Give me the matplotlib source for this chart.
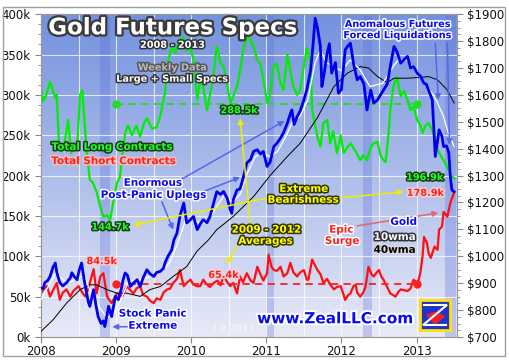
import numpy as np
import matplotlib
matplotlib.use('Agg')
import matplotlib.pyplot as plt
import matplotlib.patheffects as pe
from matplotlib.patches import Rectangle, Wedge

# Total long contracts (k)
long_t = [2008.00, 2008.03, 2008.07, 2008.12, 2008.16, 2008.19, 2008.21, 2008.24, 2008.28, 2008.32,
          2008.36, 2008.40, 2008.44, 2008.48, 2008.52, 2008.55, 2008.57, 2008.61, 2008.65, 2008.69,
          2008.74, 2008.79, 2008.83, 2008.88, 2008.92, 2008.96, 2009.01, 2009.05, 2009.12, 2009.16,
          2009.21, 2009.27, 2009.32, 2009.37, 2009.41, 2009.48, 2009.54, 2009.59, 2009.65, 2009.69,
          2009.74, 2009.79, 2009.83, 2009.89, 2009.93, 2009.99, 2010.03, 2010.08, 2010.12, 2010.16,
          2010.21, 2010.25, 2010.29, 2010.34, 2010.39, 2010.43, 2010.47, 2010.52, 2010.56, 2010.61,
          2010.65, 2010.69, 2010.74, 2010.79, 2010.83, 2010.88, 2010.92, 2010.96, 2011.01, 2011.05,
          2011.09, 2011.14, 2011.19, 2011.23, 2011.28, 2011.32, 2011.36, 2011.41, 2011.45, 2011.49,
          2011.54, 2011.59, 2011.61, 2011.68, 2011.72, 2011.76, 2011.81, 2011.85, 2011.89, 2011.94,
          2011.99, 2012.03, 2012.08, 2012.12, 2012.19, 2012.25, 2012.29, 2012.34, 2012.39, 2012.43,
          2012.48, 2012.52, 2012.56, 2012.59, 2012.63, 2012.65, 2012.69, 2012.74, 2012.79, 2012.83,
          2012.88, 2012.92, 2012.96, 2013.01, 2013.05, 2013.08, 2013.12, 2013.16, 2013.21, 2013.24,
          2013.28, 2013.32, 2013.36, 2013.40, 2013.43, 2013.45, 2013.50]
long_k = [308, 292, 300, 316, 305, 296, 300, 235, 230, 244,
          269, 228, 240, 232, 300, 306, 280, 228, 195, 191,
          180, 161, 149, 151, 145, 166, 191, 198, 253, 262,
          250, 262, 248, 265, 271, 258, 260, 275, 302, 340,
          360, 352, 365, 372, 355, 358, 343, 294, 318, 310,
          281, 300, 320, 360, 340, 335, 318, 290, 298, 310,
          330, 355, 372, 368, 360, 343, 339, 320, 290, 300,
          335, 339, 314, 306, 350, 330, 310, 300, 306, 330,
          358, 340, 281, 248, 236, 265, 269, 240, 255, 228,
          250, 228, 235, 240, 230, 219, 225, 219, 235, 240,
          242, 225, 219, 217, 255, 281, 310, 322, 298, 305,
          294, 281, 285, 269, 262, 253, 262, 265, 256, 248,
          232, 225, 219, 212, 207, 200, 197]

# Total short contracts (k)
short_t = [2008.00, 2008.04, 2008.08, 2008.12, 2008.16, 2008.21, 2008.25, 2008.29, 2008.34, 2008.39,
           2008.43, 2008.50, 2008.55, 2008.59, 2008.63, 2008.65, 2008.70, 2008.74, 2008.79, 2008.83,
           2008.88, 2008.94, 2009.01, 2009.08, 2009.14, 2009.19, 2009.23, 2009.27, 2009.32, 2009.36,
           2009.41, 2009.45, 2009.50, 2009.54, 2009.59, 2009.63, 2009.68, 2009.72, 2009.76, 2009.81,
           2009.85, 2009.90, 2009.95, 2009.99, 2010.03, 2010.08, 2010.12, 2010.16, 2010.21, 2010.25,
           2010.30, 2010.35, 2010.39, 2010.43, 2010.48, 2010.52, 2010.56, 2010.61, 2010.65, 2010.69,
           2010.74, 2010.79, 2010.83, 2010.88, 2010.92, 2010.96, 2011.01, 2011.03, 2011.07, 2011.10,
           2011.14, 2011.19, 2011.23, 2011.28, 2011.32, 2011.36, 2011.41, 2011.45, 2011.50, 2011.54,
           2011.56, 2011.61, 2011.63, 2011.68, 2011.72, 2011.76, 2011.81, 2011.85, 2011.90, 2011.94,
           2011.99, 2012.03, 2012.05, 2012.09, 2012.12, 2012.16, 2012.19, 2012.21, 2012.25, 2012.29,
           2012.32, 2012.36, 2012.40, 2012.43, 2012.47, 2012.50, 2012.53, 2012.56, 2012.61, 2012.65,
           2012.69, 2012.72, 2012.76, 2012.79, 2012.83, 2012.88, 2012.92, 2012.96, 2013.01, 2013.03,
           2013.05, 2013.08, 2013.10, 2013.14, 2013.16, 2013.19, 2013.24, 2013.28, 2013.30, 2013.34,
           2013.36, 2013.41, 2013.45, 2013.50]
short_k = [54, 60, 63, 50, 58, 67, 46, 55, 59, 50,
           57, 63, 55, 50, 60, 67, 84, 54, 75, 79,
           50, 42, 54, 50, 63, 58, 54, 60, 63, 52,
           50, 45, 42, 48, 46, 55, 59, 60, 67, 72,
           83, 63, 68, 71, 65, 63, 63, 71, 65, 62,
           67, 70, 64, 75, 68, 63, 67, 54, 75, 68,
           79, 70, 67, 87, 78, 70, 79, 102, 87, 83,
           82, 87, 75, 79, 92, 80, 75, 80, 83, 71,
           71, 96, 92, 83, 78, 67, 72, 65, 59, 62,
           63, 52, 46, 52, 54, 63, 65, 55, 50, 55,
           62, 87, 78, 75, 80, 83, 75, 71, 62, 54,
           52, 50, 56, 59, 58, 57, 60, 71, 67, 72,
           79, 100, 124, 116, 104, 98, 112, 108, 133, 137,
           155, 149, 166, 179]

# Gold price ($)
gold_t = [2008.00, 2008.03, 2008.05, 2008.09, 2008.12, 2008.16, 2008.19, 2008.21, 2008.25, 2008.29,
          2008.34, 2008.39, 2008.41, 2008.44, 2008.48, 2008.51, 2008.54, 2008.57, 2008.59, 2008.63,
          2008.65, 2008.70, 2008.73, 2008.76, 2008.80, 2008.83, 2008.85, 2008.90, 2008.94, 2008.99,
          2009.03, 2009.07, 2009.09, 2009.12, 2009.15, 2009.19, 2009.23, 2009.28, 2009.32, 2009.36,
          2009.41, 2009.45, 2009.50, 2009.54, 2009.59, 2009.63, 2009.65, 2009.69, 2009.74, 2009.77,
          2009.81, 2009.85, 2009.90, 2009.94, 2009.99, 2010.03, 2010.08, 2010.12, 2010.16, 2010.21,
          2010.25, 2010.30, 2010.34, 2010.39, 2010.43, 2010.48, 2010.52, 2010.54, 2010.56, 2010.61,
          2010.65, 2010.70, 2010.74, 2010.79, 2010.83, 2010.88, 2010.92, 2010.96, 2011.01, 2011.05,
          2011.10, 2011.14, 2011.19, 2011.23, 2011.28, 2011.32, 2011.34, 2011.37, 2011.41, 2011.45,
          2011.50, 2011.54, 2011.59, 2011.62, 2011.65, 2011.68, 2011.72, 2011.74, 2011.77, 2011.81,
          2011.84, 2011.87, 2011.92, 2011.96, 2012.00, 2012.05, 2012.08, 2012.12, 2012.16, 2012.21,
          2012.25, 2012.30, 2012.34, 2012.39, 2012.43, 2012.48, 2012.52, 2012.56, 2012.61, 2012.65,
          2012.70, 2012.74, 2012.79, 2012.83, 2012.88, 2012.92, 2012.96, 2013.01, 2013.05, 2013.10,
          2013.13, 2013.16, 2013.21, 2013.25, 2013.30, 2013.34, 2013.36, 2013.40, 2013.43, 2013.45,
          2013.47, 2013.50]
gold_p = [882, 880, 902, 910, 925, 960, 975, 940, 902, 890,
          902, 920, 939, 925, 913, 950, 975, 920, 888, 830,
          814, 876, 820, 776, 750, 760, 739, 814, 776, 851,
          839, 880, 910, 938, 930, 888, 900, 913, 888, 920,
          950, 935, 925, 940, 944, 955, 975, 1000, 1024, 1061,
          1086, 1150, 1198, 1124, 1136, 1148, 1099, 1120, 1136, 1125,
          1148, 1200, 1240, 1230, 1241, 1215, 1173, 1160, 1210, 1247,
          1250, 1300, 1347, 1360, 1390, 1396, 1380, 1390, 1334, 1350,
          1408, 1420, 1440, 1460, 1495, 1530, 1544, 1490, 1519, 1540,
          1581, 1620, 1693, 1780, 1885, 1850, 1780, 1631, 1680, 1755,
          1790, 1681, 1720, 1606, 1620, 1767, 1780, 1792, 1718, 1656,
          1668, 1640, 1544, 1618, 1570, 1581, 1600, 1618, 1640, 1705,
          1780, 1760, 1718, 1730, 1743, 1700, 1705, 1680, 1670, 1643,
          1640, 1618, 1581, 1371, 1470, 1445, 1408, 1410, 1384, 1297,
          1247, 1240]

# 10-week moving average ($)
wma10_t = [2008.00, 2008.10, 2008.20, 2008.30, 2008.40, 2008.50, 2008.58, 2008.67, 2008.78, 2008.88,
           2008.98, 2009.08, 2009.17, 2009.28, 2009.40, 2009.52, 2009.62, 2009.72, 2009.82, 2009.92,
           2010.02, 2010.12, 2010.22, 2010.35, 2010.45, 2010.55, 2010.65, 2010.75, 2010.85, 2010.95,
           2011.05, 2011.15, 2011.25, 2011.35, 2011.45, 2011.55, 2011.65, 2011.72, 2011.80, 2011.90,
           2012.00, 2012.12, 2012.25, 2012.38, 2012.55, 2012.70, 2012.76, 2012.88, 2013.00, 2013.12,
           2013.22, 2013.28, 2013.36, 2013.42, 2013.50]
wma10_p = [840, 890, 940, 910, 905, 925, 925, 860, 810, 770,
           790, 850, 910, 910, 920, 935, 945, 980, 1050, 1130,
           1140, 1120, 1130, 1190, 1230, 1200, 1230, 1310, 1370, 1385,
           1370, 1390, 1440, 1500, 1520, 1580, 1720, 1767, 1720, 1705,
           1690, 1730, 1693, 1631, 1643, 1710, 1730, 1730, 1681, 1640,
           1600, 1570, 1519, 1460, 1408]

# 40-week moving average ($)
wma40_t = [2008.00, 2008.16, 2008.34, 2008.52, 2008.65, 2008.74, 2008.88, 2009.01, 2009.14, 2009.32,
           2009.45, 2009.59, 2009.76, 2009.94, 2010.08, 2010.23, 2010.34, 2010.56, 2010.83, 2011.05,
           2011.28, 2011.45, 2011.68, 2011.90, 2012.08, 2012.25, 2012.36, 2012.48, 2012.61, 2012.70,
           2012.88, 2013.05, 2013.16, 2013.28, 2013.41, 2013.50]
wma40_p = [721, 764, 826, 876, 894, 894, 876, 863, 863, 851,
           876, 888, 925, 962, 1020, 1061, 1099, 1148, 1222, 1300,
           1371, 1420, 1515, 1631, 1681, 1705, 1700, 1668, 1645, 1662,
           1662, 1665, 1668, 1656, 1618, 1570]

avg_long = 288.5
avg_short = 65.4
avg_span = [2009.0, 2013.0]
bands = [(2008.79, 2008.92), (2011.00, 2011.10), (2012.29, 2012.41), (2013.38, 2013.53)]

fig = plt.figure(figsize=(5.09, 3.63), dpi=100)
fig.patches.append(Rectangle((0.006, 0.019), 0.986, 0.962, transform=fig.transFigure,
                             fill=False, edgecolor='#a0a0a0', lw=1))
ax = fig.add_axes([0.0806, 0.0716, 0.8174, 0.8894])
ax2 = ax.twinx()

X0, X1 = 2008.0, 2013.54
ax.set_xlim(X0, X1)
ax.set_ylim(0, 400)
ax2.set_ylim(700, 1900)

# background gradient
top = np.array([115, 145, 222]) / 255
bot = np.array([232, 234, 247]) / 255
g = np.linspace(0, 1, 256)[:, None]
grad = (top * (1 - g) + bot * g)[:, None, :]
ax.imshow(grad, extent=[X0, X1, 0, 400], aspect='auto', origin='upper', zorder=0)
ax.set_xlim(X0, X1)

for a, b in bands:
    ax.axvspan(a, b, color='#5568d8', alpha=0.28, lw=0, zorder=0.5)

# grid
for yv in range(50, 400, 50):
    ax.axhline(yv, color='white', lw=0.8, alpha=0.75, zorder=0.6)
for xv in np.arange(2008.5, 2013.5, 0.5):
    ax.axvline(xv, color='white', lw=0.8, alpha=0.75, zorder=0.6)

# spec lines
ax.plot(long_t, long_k, color='#00ee00', lw=1.6, zorder=2)
ax.plot(short_t, short_k, color='#ff1010', lw=1.6, zorder=2)
ax.plot(avg_span, [avg_long, avg_long], color='#22dd22', lw=1.3, ls=(0, (4, 3)), zorder=2)
ax.plot(avg_span, [avg_long, avg_long], 'o', color='#22dd22', ms=5, zorder=2)
ax.plot(avg_span, [avg_short, avg_short], color='#ff2020', lw=1.3, ls=(0, (4, 3)), zorder=2)
ax.plot(avg_span, [avg_short, avg_short], 'o', color='#ff2020', ms=5, zorder=2)

# gold lines
ax2.plot(wma40_t, wma40_p, color='black', lw=0.7, zorder=3)
ax2.plot(wma10_t, wma10_p, color='white', lw=0.9, zorder=3)
ax2.plot(gold_t, gold_p, color='#0000ee', lw=2.0, zorder=4)

# axes styling
ax.set_xticks(range(2008, 2014))
ax.set_xticklabels([str(y) for y in range(2008, 2014)])
ax.set_yticks(range(0, 401, 50))
ax.set_yticklabels(['%dk' % v for v in range(0, 401, 50)])
ax.set_yticks(np.arange(0, 400, 12.5), minor=True)
ax2.set_yticks(range(700, 1901, 100))
ax2.set_yticklabels(['$%d' % v for v in range(700, 1901, 100)])
ax2.set_yticks(np.arange(700, 1900, 25), minor=True)
for a in (ax, ax2):
    a.tick_params(labelsize=8.5, length=4, color='#888888', labelcolor='#111111')
    a.tick_params(which='minor', length=2, color='#888888')
    for s in a.spines.values():
        s.set_color('#999999')
ax.tick_params(axis='x', pad=2)

T = ax.transData


def label(x, y, s, color, size, edge, lw=2.2):
    t = ax2.text(x, y, s, transform=T, color=color, fontsize=size, fontweight='bold',
                 ha='center', va='center', zorder=10)
    t.set_path_effects([pe.withStroke(linewidth=lw, foreground=edge)])
    return t


def arrow(x0, y0, x1, y1, color, lw=1.1):
    ax2.annotate('', xy=(x1, y1), xytext=(x0, y0), xycoords=T, textcoords=T, zorder=9,
                 arrowprops=dict(arrowstyle='-|>', color=color, lw=lw, mutation_scale=8,
                                 shrinkA=0, shrinkB=0))


label(2009.75, 383, 'Gold Futures Specs', 'white', 16.5, '#3a3a3a', lw=3.2)
label(2009.75, 362, '2008 - 2013', 'white', 7, '#333333')
label(2009.75, 334, 'Weekly Data', '#b8b8b8', 7, '#555555')
label(2009.75, 320, 'Large + Small Specs', 'white', 7, '#333333')
label(2008.95, 235.5, 'Total Long Contracts', '#22ff22', 7.5, '#1a3a1a')
label(2008.97, 218, 'Total Short Contracts', '#ff2020', 7.5, '#f0c0c0')
label(2009.49, 191, 'Enormous', '#0a0aee', 7.5, 'white')
label(2009.50, 176, 'Post-Panic Uplegs', '#0a0aee', 7.5, 'white')
label(2009.49, 29, 'Stock Panic', '#0a0aee', 7.5, 'white')
label(2009.49, 14, 'Extreme', '#0a0aee', 7.5, 'white')
label(2008.81, 94, '84.5k', '#ff2020', 7, '#f4d0d0')
label(2010.43, 77, '65.4k', '#ff2020', 7, '#f4d0d0')
label(2008.92, 136.5, '144.7k', '#22ff22', 7, '#1a3a1a')
label(2010.64, 281, '288.5k', '#22ff22', 7, '#1a3a1a')
label(2011.0, 133, '2009 - 2012', '#ffff00', 7.5, '#333300')
label(2010.99, 119, 'Averages', '#ffff00', 7.5, '#333300')
label(2011.5, 183.5, 'Extreme', '#ffff00', 7.5, '#333300')
label(2011.49, 170, 'Bearishness', '#ffff00', 7.5, '#333300')
label(2012.0, 133, 'Epic', '#ff2020', 7.5, 'white')
label(2012.01, 119, 'Surge', '#ff2020', 7.5, 'white')
label(2013.11, 198, '196.9k', '#22ff22', 7, '#1a3a1a')
label(2013.12, 178.6, '178.9k', '#ff2020', 7, '#f4d0d0')
label(2012.83, 142.7, 'Gold', '#0a0aee', 7.5, 'white')
label(2012.71, 124, '10wma', 'white', 7.5, '#333333')
label(2012.71, 108, '40wma', 'black', 7.5, '#d8d8d8')
label(2012.75, 387.8, 'Anomalous Futures', '#0a0aee', 7, 'white')
label(2012.75, 374, 'Forced Liquidations', '#0a0aee', 7, 'white')
label(2011.91, 22.6, 'www.ZealLLC.com', '#0a0aee', 11, 'white', lw=3)
ax2.text(2010.55, 10, '7.9.2013', transform=T, color='#f4f4fa', fontsize=6.5,
         fontweight='bold', ha='center', va='center', zorder=10, alpha=0.9)

# arrows
arrow(2009.88, 196, 2011.24, 267.7, '#5566ee')
arrow(2010.16, 180, 2010.65, 198, '#5566ee')
arrow(2009.61, 167.5, 2009.76, 133, '#5566ee')
arrow(2009.15, 12.7, 2008.95, 12.7, '#5566ee')
arrow(2011.03, 172.5, 2009.23, 138.9, '#eeee00')
arrow(2011.99, 172.5, 2012.83, 180, '#eeee00')
arrow(2010.79, 137.7, 2010.65, 271, '#eeee00')
arrow(2010.61, 111.8, 2010.47, 90.7, '#eeee00')
arrow(2012.21, 137.7, 2013.29, 153.8, '#e06868')
arrow(2013.25, 364, 2013.29, 293.8, '#5566ee')
arrow(2013.41, 364, 2013.44, 238, '#5566ee')

# logo
lg = fig.add_axes([420 / 509, 1 - 330 / 363, 30 / 509, 30 / 363])
lg.set_xlim(0, 1)
lg.set_ylim(0, 1)
lg.set_facecolor('#2233cc')
lg.set_xticks([])
lg.set_yticks([])
for s in lg.spines.values():
    s.set_color('#ffe000')
    s.set_linewidth(2)
for yy in (0.82, 0.18):
    lg.plot([0.12, 0.88], [yy, yy], color='white', lw=1.5)
lg.plot([0.88, 0.12], [0.82, 0.18], color='white', lw=1.5)
for k in range(5):
    lg.add_patch(Wedge((0.5, 0.2), 0.38, 40 + k * 20, 52 + k * 20, color='#ee2222'))

fig.savefig('out.png', dpi=100)
